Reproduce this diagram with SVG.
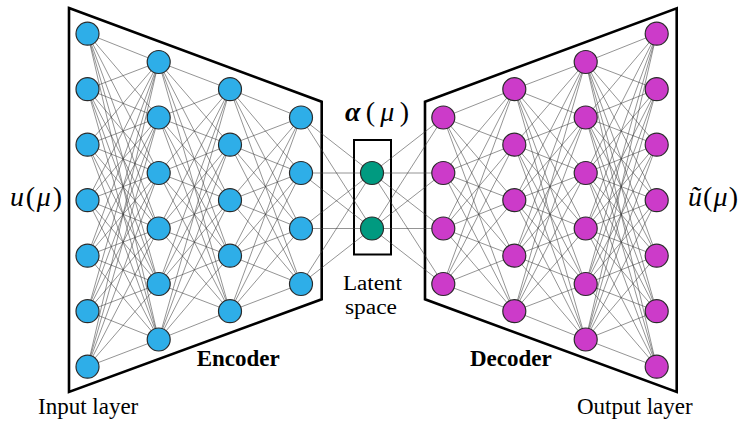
<svg xmlns="http://www.w3.org/2000/svg" width="739" height="424" viewBox="0 0 739 424">
<style>
.frame{fill:none;stroke:#000;stroke-width:2.6;stroke-linejoin:miter}
.box{fill:none;stroke:#000;stroke-width:2}
.edges path{fill:none;stroke:#3a3a3a;stroke-width:0.55}
.nb{fill:#2EAEE8;stroke:#2b2b2b;stroke-width:1.2}
.nm{fill:#CC3BC9;stroke:#2b2b2b;stroke-width:1.2}
.nt{fill:#009A80;stroke:#2b2b2b;stroke-width:1.2}
</style>
<rect width="739" height="424" fill="#fff"/>
<g id="frames">
<polygon class="frame" points="69,8 321.7,101.7 321.7,299.3 69,392"/>
<polygon class="frame" points="425,101.7 676.7,8.3 676.7,392 425,299.3"/>
<rect class="box" x="354" y="140" width="37" height="114.5"/>
</g>
<g id="connectors" class="edges">
<path d="M87.5 33.7 158.7 62M87.5 33.7 158.7 117.5M87.5 33.7 158.7 173M87.5 33.7 158.7 228.5M87.5 33.7 158.7 284M87.5 33.7 158.7 339.5
M87.5 89.2 158.7 62M87.5 89.2 158.7 117.5M87.5 89.2 158.7 173M87.5 89.2 158.7 228.5M87.5 89.2 158.7 284M87.5 89.2 158.7 339.5
M87.5 144.7 158.7 62M87.5 144.7 158.7 117.5M87.5 144.7 158.7 173M87.5 144.7 158.7 228.5M87.5 144.7 158.7 284M87.5 144.7 158.7 339.5
M87.5 200.2 158.7 62M87.5 200.2 158.7 117.5M87.5 200.2 158.7 173M87.5 200.2 158.7 228.5M87.5 200.2 158.7 284M87.5 200.2 158.7 339.5
M87.5 255.7 158.7 62M87.5 255.7 158.7 117.5M87.5 255.7 158.7 173M87.5 255.7 158.7 228.5M87.5 255.7 158.7 284M87.5 255.7 158.7 339.5
M87.5 311.2 158.7 62M87.5 311.2 158.7 117.5M87.5 311.2 158.7 173M87.5 311.2 158.7 228.5M87.5 311.2 158.7 284M87.5 311.2 158.7 339.5
M87.5 366.7 158.7 62M87.5 366.7 158.7 117.5M87.5 366.7 158.7 173M87.5 366.7 158.7 228.5M87.5 366.7 158.7 284M87.5 366.7 158.7 339.5"/>
<path d="M158.7 62 230 89.2M158.7 62 230 144.7M158.7 62 230 200.2M158.7 62 230 255.7M158.7 62 230 311.2
M158.7 117.5 230 89.2M158.7 117.5 230 144.7M158.7 117.5 230 200.2M158.7 117.5 230 255.7M158.7 117.5 230 311.2
M158.7 173 230 89.2M158.7 173 230 144.7M158.7 173 230 200.2M158.7 173 230 255.7M158.7 173 230 311.2
M158.7 228.5 230 89.2M158.7 228.5 230 144.7M158.7 228.5 230 200.2M158.7 228.5 230 255.7M158.7 228.5 230 311.2
M158.7 284 230 89.2M158.7 284 230 144.7M158.7 284 230 200.2M158.7 284 230 255.7M158.7 284 230 311.2
M158.7 339.5 230 89.2M158.7 339.5 230 144.7M158.7 339.5 230 200.2M158.7 339.5 230 255.7M158.7 339.5 230 311.2"/>
<path d="M230 89.2 301 117.5M230 89.2 301 173M230 89.2 301 228.5M230 89.2 301 284
M230 144.7 301 117.5M230 144.7 301 173M230 144.7 301 228.5M230 144.7 301 284
M230 200.2 301 117.5M230 200.2 301 173M230 200.2 301 228.5M230 200.2 301 284
M230 255.7 301 117.5M230 255.7 301 173M230 255.7 301 228.5M230 255.7 301 284
M230 311.2 301 117.5M230 311.2 301 173M230 311.2 301 228.5M230 311.2 301 284"/>
<path d="M301 117.5 372 173M301 117.5 372 228.5M301 173 372 173M301 173 372 228.5M301 228.5 372 173M301 228.5 372 228.5M301 284 372 173M301 284 372 228.5"/>
<path d="M372 173 443.3 117.5M372 173 443.3 173M372 173 443.3 228.5M372 173 443.3 284M372 228.5 443.3 117.5M372 228.5 443.3 173M372 228.5 443.3 228.5M372 228.5 443.3 284"/>
<path d="M443.3 117.5 514.3 89.2M443.3 117.5 514.3 144.7M443.3 117.5 514.3 200.2M443.3 117.5 514.3 255.7M443.3 117.5 514.3 311.2
M443.3 173 514.3 89.2M443.3 173 514.3 144.7M443.3 173 514.3 200.2M443.3 173 514.3 255.7M443.3 173 514.3 311.2
M443.3 228.5 514.3 89.2M443.3 228.5 514.3 144.7M443.3 228.5 514.3 200.2M443.3 228.5 514.3 255.7M443.3 228.5 514.3 311.2
M443.3 284 514.3 89.2M443.3 284 514.3 144.7M443.3 284 514.3 200.2M443.3 284 514.3 255.7M443.3 284 514.3 311.2"/>
<path d="M514.3 89.2 585.7 62M514.3 89.2 585.7 117.5M514.3 89.2 585.7 173M514.3 89.2 585.7 228.5M514.3 89.2 585.7 284M514.3 89.2 585.7 339.5
M514.3 144.7 585.7 62M514.3 144.7 585.7 117.5M514.3 144.7 585.7 173M514.3 144.7 585.7 228.5M514.3 144.7 585.7 284M514.3 144.7 585.7 339.5
M514.3 200.2 585.7 62M514.3 200.2 585.7 117.5M514.3 200.2 585.7 173M514.3 200.2 585.7 228.5M514.3 200.2 585.7 284M514.3 200.2 585.7 339.5
M514.3 255.7 585.7 62M514.3 255.7 585.7 117.5M514.3 255.7 585.7 173M514.3 255.7 585.7 228.5M514.3 255.7 585.7 284M514.3 255.7 585.7 339.5
M514.3 311.2 585.7 62M514.3 311.2 585.7 117.5M514.3 311.2 585.7 173M514.3 311.2 585.7 228.5M514.3 311.2 585.7 284M514.3 311.2 585.7 339.5"/>
<path d="M585.7 62 656.7 33.7M585.7 62 656.7 89.2M585.7 62 656.7 144.7M585.7 62 656.7 200.2M585.7 62 656.7 255.7M585.7 62 656.7 311.2M585.7 62 656.7 366.7
M585.7 117.5 656.7 33.7M585.7 117.5 656.7 89.2M585.7 117.5 656.7 144.7M585.7 117.5 656.7 200.2M585.7 117.5 656.7 255.7M585.7 117.5 656.7 311.2M585.7 117.5 656.7 366.7
M585.7 173 656.7 33.7M585.7 173 656.7 89.2M585.7 173 656.7 144.7M585.7 173 656.7 200.2M585.7 173 656.7 255.7M585.7 173 656.7 311.2M585.7 173 656.7 366.7
M585.7 228.5 656.7 33.7M585.7 228.5 656.7 89.2M585.7 228.5 656.7 144.7M585.7 228.5 656.7 200.2M585.7 228.5 656.7 255.7M585.7 228.5 656.7 311.2M585.7 228.5 656.7 366.7
M585.7 284 656.7 33.7M585.7 284 656.7 89.2M585.7 284 656.7 144.7M585.7 284 656.7 200.2M585.7 284 656.7 255.7M585.7 284 656.7 311.2M585.7 284 656.7 366.7
M585.7 339.5 656.7 33.7M585.7 339.5 656.7 89.2M585.7 339.5 656.7 144.7M585.7 339.5 656.7 200.2M585.7 339.5 656.7 255.7M585.7 339.5 656.7 311.2M585.7 339.5 656.7 366.7"/>
</g>
<g id="input-layer">
<circle class="nb" cx="87.5" cy="33.7" r="11.5"/><circle class="nb" cx="87.5" cy="89.2" r="11.5"/><circle class="nb" cx="87.5" cy="144.7" r="11.5"/><circle class="nb" cx="87.5" cy="200.2" r="11.5"/><circle class="nb" cx="87.5" cy="255.7" r="11.5"/><circle class="nb" cx="87.5" cy="311.2" r="11.5"/><circle class="nb" cx="87.5" cy="366.7" r="11.5"/>
</g>
<g id="encoder-hidden-1">
<circle class="nb" cx="158.7" cy="62" r="11.5"/><circle class="nb" cx="158.7" cy="117.5" r="11.5"/><circle class="nb" cx="158.7" cy="173" r="11.5"/><circle class="nb" cx="158.7" cy="228.5" r="11.5"/><circle class="nb" cx="158.7" cy="284" r="11.5"/><circle class="nb" cx="158.7" cy="339.5" r="11.5"/>
</g>
<g id="encoder-hidden-2">
<circle class="nb" cx="230" cy="89.2" r="11.5"/><circle class="nb" cx="230" cy="144.7" r="11.5"/><circle class="nb" cx="230" cy="200.2" r="11.5"/><circle class="nb" cx="230" cy="255.7" r="11.5"/><circle class="nb" cx="230" cy="311.2" r="11.5"/>
</g>
<g id="encoder-hidden-3">
<circle class="nb" cx="301" cy="117.5" r="11.5"/><circle class="nb" cx="301" cy="173" r="11.5"/><circle class="nb" cx="301" cy="228.5" r="11.5"/><circle class="nb" cx="301" cy="284" r="11.5"/>
</g>
<g id="latent-layer">
<circle class="nt" cx="372" cy="173" r="11.5"/><circle class="nt" cx="372" cy="228.5" r="11.5"/>
</g>
<g id="decoder-hidden-1">
<circle class="nm" cx="443.3" cy="117.5" r="11.5"/><circle class="nm" cx="443.3" cy="173" r="11.5"/><circle class="nm" cx="443.3" cy="228.5" r="11.5"/><circle class="nm" cx="443.3" cy="284" r="11.5"/>
</g>
<g id="decoder-hidden-2">
<circle class="nm" cx="514.3" cy="89.2" r="11.5"/><circle class="nm" cx="514.3" cy="144.7" r="11.5"/><circle class="nm" cx="514.3" cy="200.2" r="11.5"/><circle class="nm" cx="514.3" cy="255.7" r="11.5"/><circle class="nm" cx="514.3" cy="311.2" r="11.5"/>
</g>
<g id="decoder-hidden-3">
<circle class="nm" cx="585.7" cy="62" r="11.5"/><circle class="nm" cx="585.7" cy="117.5" r="11.5"/><circle class="nm" cx="585.7" cy="173" r="11.5"/><circle class="nm" cx="585.7" cy="228.5" r="11.5"/><circle class="nm" cx="585.7" cy="284" r="11.5"/><circle class="nm" cx="585.7" cy="339.5" r="11.5"/>
</g>
<g id="output-layer">
<circle class="nm" cx="656.7" cy="33.7" r="11.5"/><circle class="nm" cx="656.7" cy="89.2" r="11.5"/><circle class="nm" cx="656.7" cy="144.7" r="11.5"/><circle class="nm" cx="656.7" cy="200.2" r="11.5"/><circle class="nm" cx="656.7" cy="255.7" r="11.5"/><circle class="nm" cx="656.7" cy="311.2" r="11.5"/><circle class="nm" cx="656.7" cy="366.7" r="11.5"/>
</g>
<g id="labels" font-family="Liberation Serif, Times New Roman, serif" fill="#000">
<text font-size="28" x="10" y="206" textLength="52" lengthAdjust="spacing"><tspan font-style="italic">u</tspan>(<tspan font-style="italic">μ</tspan>)</text>
<text font-size="28" x="345" y="121" textLength="64" lengthAdjust="spacing"><tspan font-style="italic" font-weight="bold">α</tspan>(<tspan font-style="italic">μ</tspan>)</text>
<text font-size="28" x="688" y="206" textLength="50" lengthAdjust="spacing"><tspan font-style="italic">ũ</tspan>(<tspan font-style="italic">μ</tspan>)</text>
<text font-size="20" x="372.5" y="290" text-anchor="middle" textLength="59" lengthAdjust="spacingAndGlyphs">Latent</text>
<text font-size="20" x="371" y="313.5" text-anchor="middle" textLength="52" lengthAdjust="spacingAndGlyphs">space</text>
<text font-size="23" font-weight="bold" x="196.7" y="366">Encoder</text>
<text font-size="23" font-weight="bold" x="470" y="366">Decoder</text>
<text font-size="23" x="38" y="414">Input layer</text>
<text font-size="23" x="577" y="414">Output layer</text>
</g>
</svg>
